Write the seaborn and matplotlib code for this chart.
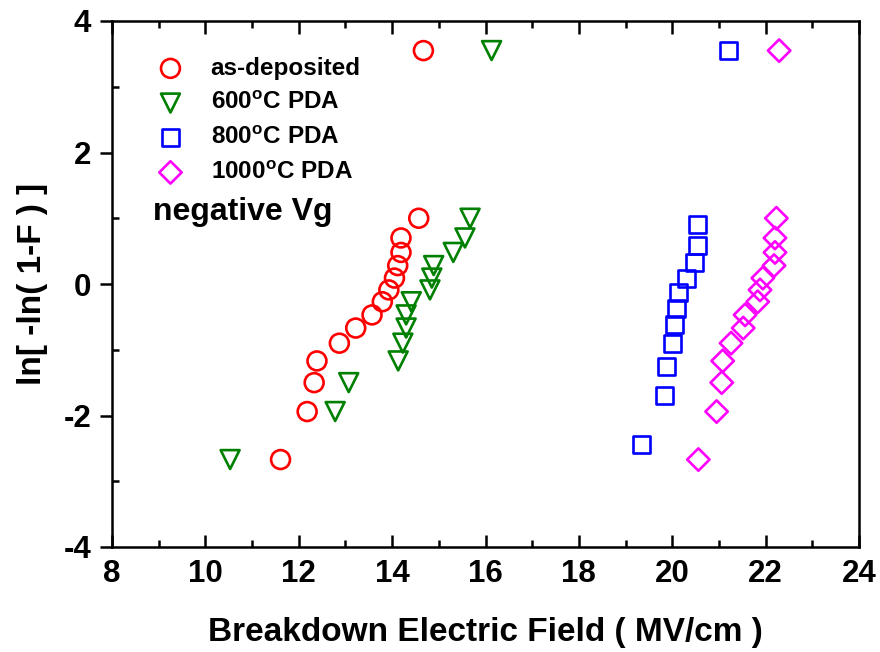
import matplotlib
matplotlib.use("Agg")
import matplotlib.pyplot as plt
import seaborn as sns
import pandas as pd
from matplotlib.ticker import MultipleLocator

# ---- data ----
asdep_x = [11.61, 12.18, 12.33, 12.39, 12.87, 13.22, 13.57, 13.79, 13.93, 14.05, 14.12, 14.19, 14.19, 14.57, 14.67]
asdep_y = [-2.67, -1.94, -1.50, -1.17, -0.90, -0.67, -0.47, -0.27, -0.09, 0.09, 0.28, 0.48, 0.70, 1.00, 3.55]

pda600_x = [10.53, 12.78, 13.07, 14.13, 14.23, 14.30, 14.30, 14.41, 14.81, 14.85, 14.89, 15.31, 15.56, 15.67, 16.13]
pda600_y = [-2.67, -1.94, -1.50, -1.17, -0.90, -0.67, -0.47, -0.27, -0.09, 0.09, 0.28, 0.48, 0.70, 1.00, 3.55]

pda800_x = [19.34, 19.83, 19.87, 20.01, 20.05, 20.10, 20.13, 20.31, 20.48, 20.54, 20.54, 21.20]
pda800_y = [-2.44, -1.70, -1.25, -0.90, -0.62, -0.37, -0.13, 0.09, 0.33, 0.58, 0.91, 3.55]

pda1000_x = [20.56, 20.95, 21.06, 21.08, 21.26, 21.52, 21.56, 21.83, 21.88, 21.94, 22.18, 22.20, 22.20, 22.23, 22.29]
pda1000_y = [-2.67, -1.94, -1.50, -1.17, -0.90, -0.67, -0.47, -0.27, -0.09, 0.09, 0.28, 0.48, 0.70, 1.00, 3.55]

labels = ["as-deposited", "600$^\\mathrm{o}$C PDA", "800$^\\mathrm{o}$C PDA", "1000$^\\mathrm{o}$C PDA"]
colors = ["#ff0000", "#008000", "#0000ff", "#ff00ff"]
markers = ["o", "v", "s", "D"]
sizes = [185, 185, 150, 130]

x_ticks = [8, 10, 12, 14, 16, 18, 20, 22, 24]
y_ticks = [-4, -2, 0, 2, 4]

sns.set_theme(style="white")
plt.rcParams["font.family"] = ["Liberation Sans", "DejaVu Sans"]
plt.rcParams["font.weight"] = "bold"
plt.rcParams["mathtext.fontset"] = "custom"
plt.rcParams["mathtext.rm"] = "Liberation Sans:bold"
plt.rcParams["mathtext.bf"] = "Liberation Sans:bold"
plt.rcParams["axes.unicode_minus"] = False
plt.rcParams["text.color"] = "black"
plt.rcParams["axes.labelcolor"] = "black"
plt.rcParams["xtick.color"] = "black"
plt.rcParams["ytick.color"] = "black"

fig = plt.figure(figsize=(8.8, 6.52), dpi=100)
ax = fig.add_axes([112 / 880, 1 - 547 / 652, 747 / 880, 526 / 652])

series = [(asdep_x, asdep_y), (pda600_x, pda600_y), (pda800_x, pda800_y), (pda1000_x, pda1000_y)]
for (xs, ys), lab, col, mk, sz in zip(series, labels, colors, markers, sizes):
    df = pd.DataFrame({"E": xs, "W": ys})
    sns.scatterplot(data=df, x="E", y="W", marker=mk, s=sz, ax=ax, label=lab, legend=False)
    coll = ax.collections[-1]
    coll.set_facecolor("none")
    coll.set_edgecolor(col)
    coll.set_linewidth(1.9)
    coll.set_clip_on(False)

ax.set_xlim(8, 24)
ax.set_ylim(-4, 4)
ax.set_xticks(x_ticks)
ax.set_yticks(y_ticks)
ax.set_xticklabels([str(t) for t in x_ticks])
ax.set_yticklabels([str(t) for t in y_ticks])
ax.xaxis.set_minor_locator(MultipleLocator(1))
ax.yaxis.set_minor_locator(MultipleLocator(1))

for sp in ax.spines.values():
    sp.set_linewidth(1.8)
    sp.set_color("black")

ax.tick_params(axis="x", which="major", direction="in", length=9, width=1.8,
               top=True, bottom=True, labelsize=22.5, pad=9, colors="black")
ax.tick_params(axis="x", which="minor", direction="in", length=5, width=1.8,
               top=True, bottom=True)
ax.tick_params(axis="y", which="major", direction="out", length=9, width=1.8,
               left=True, right=False, labelsize=22.5, pad=6, colors="black")
ax.tick_params(axis="y", which="minor", direction="in", length=5, width=1.8,
               left=True, right=False)
for lab in ax.get_xticklabels() + ax.get_yticklabels():
    lab.set_fontweight("bold")

ax.set_xlabel("Breakdown Electric Field ( MV/cm )", fontsize=24, fontweight="bold", labelpad=20)
ax.set_ylabel("ln[ -ln( 1-F ) ]", fontsize=24, fontweight="bold", labelpad=11)

leg = ax.legend(loc="upper left", bbox_to_anchor=(0.062, 0.932), frameon=False,
                prop={"size": 17.5, "weight": "bold"}, handlelength=1.0,
                handletextpad=1.15, labelspacing=0.48, borderpad=0, borderaxespad=0,
                scatterpoints=1)

fig.text(153 / 880, 1 - 212 / 652, "negative Vg", fontsize=23, fontweight="bold",
         va="center", ha="left", color="black")

fig.savefig("out.png", dpi=100)
